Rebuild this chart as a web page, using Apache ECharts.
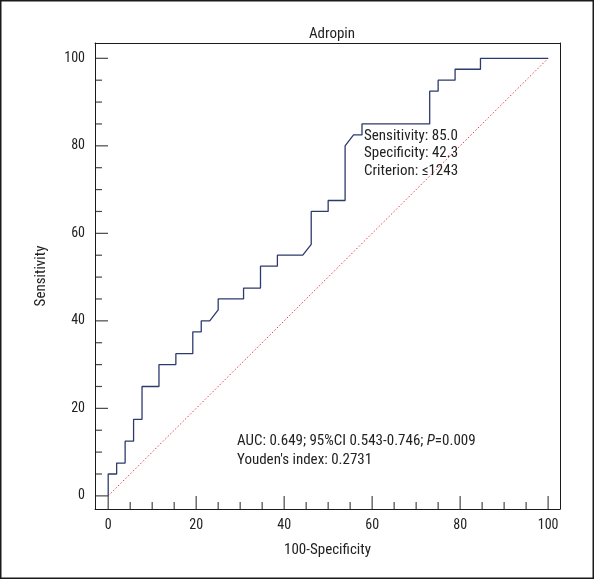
<!DOCTYPE html>
<html><head><meta charset="utf-8">
<script src="https://cdn.jsdelivr.net/npm/echarts@6/dist/echarts.min.js"></script>
<style>html,body{margin:0;padding:0;background:#fff}#c{width:594px;height:579px}</style>
</head><body><div id="c"></div>
<script>
var FONT = "'Liberation Sans Narrow','Arial Narrow','Roboto Condensed',Roboto,sans-serif";
var fpr  = [0,0,1.92,1.92,3.85,3.85,5.77,5.77,7.69,7.69,11.54,11.54,15.38,15.38,19.23,19.23,21.15,21.15,23.08,25,25,30.77,30.77,34.62,34.62,38.46,38.46,44.23,46.15,46.15,50,50,53.85,53.85,55.77,57.69,57.69,73.08,73.08,75,75,78.85,78.85,84.62,84.62,100];
var sens = [0,5,5,7.5,7.5,12.5,12.5,17.5,17.5,25,25,30,30,32.5,32.5,37.5,37.5,40,40,42.5,45,45,47.5,47.5,52.5,52.5,55,55,57.5,65,65,67.5,67.5,80,82.5,82.5,85,85,92.5,92.5,95,95,97.5,97.5,100,100];
var refX = [0,100];
var refY = [0,100];
var majorTicks = [0,20,40,60,80,100];
var minorTicks = [5,10,15,25,30,35,45,50,55,65,70,75,85,90,95];
var titleText = 'Adropin';
var xName = '100-Specificity';
var yName = 'Sensitivity';
var criterionLines = ['Sensitivity: 85.0','Specificity: 42.3','Criterion: \u22641243'];
var aucLines = ['AUC: 0.649; 95%CI 0.543-0.746; {i|P}=0.009', "Youden's index: 0.2731"];

var curve = fpr.map(function(v,i){return [v,sens[i]];});
var ref = refX.map(function(v,i){return [v,refY[i]];});
var axCol = '#1a1a1a';
var XR = {min:-3,max:102.7}, YR = {min:-3,max:103.5};
var G = {left:95,right:34,top:43,bottom:70,show:false};

function ax(dim, grid, pos, ticks, labels){
  var r = dim==='x'?XR:YR;
  var o = {type:'value',gridIndex:grid,min:r.min,max:r.max,position:pos,
    splitLine:{show:false},
    axisLine:{show:true,onZero:false,lineStyle:{color:axCol}},
    axisTick:{show:false},
    axisLabel:{show:labels,margin:dim==='x'?9:10,color:'#222',fontSize:14,fontFamily:FONT}};
  if (ticks){ o.axisLabel.customValues = ticks; }
  if (labels){
    o.name = dim==='x'?xName:yName; o.nameLocation='middle'; o.nameGap = dim==='x'?34:46;
    o.nameTextStyle = {color:'#222',fontSize:15,fontFamily:FONT};
  }
  return o;
}
function tickSeries(vals, dim, len){
  return {type:'scatter',xAxisIndex:0,yAxisIndex:0,silent:true,clip:false,z:5,
    symbol:'rect',
    symbolSize: dim==='x'?[1.2,len]:[len,1.2],
    symbolOffset: dim==='x'?[0,-len/2]:[len/2,0],
    itemStyle:{color:axCol},
    data: vals.map(function(v){return dim==='x'?[v,YR.min]:[XR.min,v];})};
}
var chart = echarts.init(document.getElementById('c'));
chart.setOption({
  animation:false,
  title:{text:titleText,left:327,top:22,textAlign:'center',textStyle:{fontSize:15,fontWeight:'normal',color:'#222',fontFamily:FONT}},
  grid:[G, Object.assign({},G)],
  xAxis:[ax('x',0,'bottom',majorTicks,true), ax('x',1,'top',null,false)],
  yAxis:[ax('y',0,'left',majorTicks,true), ax('y',1,'right',null,false)],
  series:[
    {type:'line',data:ref,xAxisIndex:0,yAxisIndex:0,symbol:'none',lineStyle:{color:'#e8383d',width:1,type:[1.5,2]},z:2},
    {type:'line',data:curve,xAxisIndex:0,yAxisIndex:0,symbol:'none',lineStyle:{color:'#2d3a6e',width:1.3},z:3},
    tickSeries(majorTicks,'x',13), tickSeries(minorTicks,'x',7),
    tickSeries(majorTicks,'y',13), tickSeries(minorTicks,'y',7),
    {type:'line',data:[],xAxisIndex:1,yAxisIndex:1}
  ],
  graphic:[
    {type:'rect',shape:{x:0.75,y:0.75,width:592.5,height:577.5},style:{fill:'none',stroke:'#1a1a1a',lineWidth:1.5},z:10,silent:true},
    {type:'text',left:364,top:127,style:{text:criterionLines.join('\n'),fontSize:15,lineHeight:17.5,fill:'#222',fontFamily:FONT},z:10},
    {type:'text',left:237,top:432,style:{text:aucLines.join('\n'),fontSize:15,lineHeight:19,fill:'#222',fontFamily:FONT,
      rich:{i:{fontStyle:'italic',fontSize:15,fontFamily:FONT,fill:'#222'}}},z:10}
  ]
});
</script></body></html>
